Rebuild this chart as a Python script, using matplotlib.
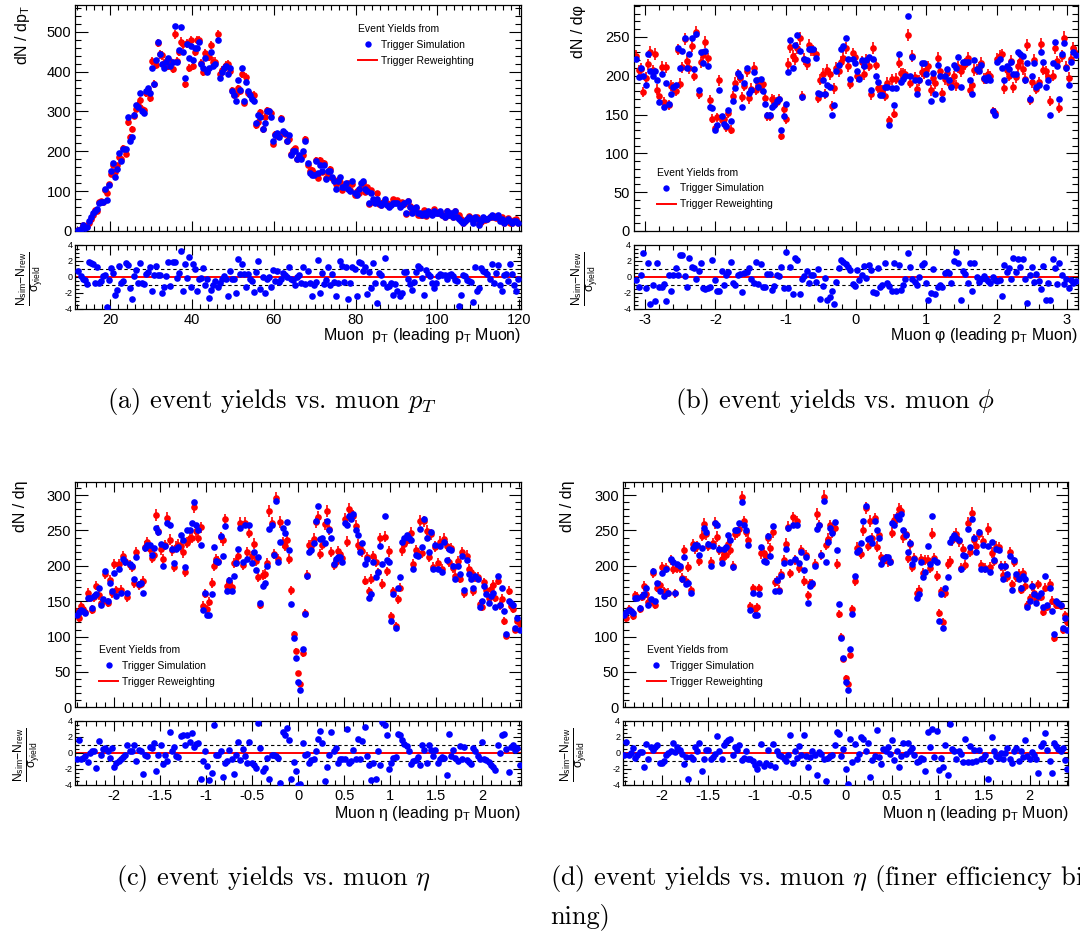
import numpy as np
import matplotlib
matplotlib.use('Agg')
import matplotlib.pyplot as plt
from matplotlib.ticker import MultipleLocator, AutoMinorLocator, FuncFormatter
from matplotlib.lines import Line2D

plt.rcParams['font.family'] = ['Liberation Sans', 'DejaVu Sans']
plt.rcParams['mathtext.fontset'] = 'custom'
plt.rcParams['mathtext.rm'] = 'Liberation Sans'
plt.rcParams['mathtext.it'] = 'Liberation Sans:italic'
plt.rcParams['mathtext.bf'] = 'Liberation Sans:bold'
plt.rcParams['mathtext.sf'] = 'Liberation Sans'
plt.rcParams['mathtext.default'] = 'it'
plt.rcParams['axes.unicode_minus'] = False

# ---------------- data ----------------
# (a) muon pT, 0.5 GeV bins from 12 to 120 ; blue = trigger simulation yields
pt_range = (12.0, 120.0)
pt_sim = [
    2, 5, 15, 8, 10, 25, 35, 45, 50, 55, 70, 72,
    72, 105, 78, 115, 150, 170, 135, 155, 195, 175, 205, 205,
    285, 225, 235, 290, 315, 310, 345, 300, 295, 350, 360, 345,
    410, 370, 430, 475, 445, 420, 410, 425, 435, 415, 425, 515,
    425, 455, 512, 450, 385, 470, 435, 465, 430, 460, 460, 475,
    420, 410, 435, 400, 410, 450, 415, 420, 480, 385, 400, 410,
    415, 395, 410, 350, 340, 325, 380, 355, 410, 325, 375, 350,
    340, 330, 325, 270, 290, 285, 255, 270, 300, 300, 285, 225,
    240, 245, 235, 280, 250, 245, 225, 240, 190, 200, 200, 180,
    190, 180, 200, 225, 170, 145, 140, 140, 175, 145, 165, 150,
    165, 130, 150, 150, 135, 125, 105, 125, 135, 110, 110, 120,
    105, 100, 125, 95, 90, 105, 120, 125, 105, 100, 70, 95,
    80, 70, 80, 70, 65, 70, 80, 65, 60, 65, 70, 70,
    70, 60, 65, 70, 45, 75, 60, 45, 55, 60, 45, 45,
    40, 45, 40, 50, 45, 40, 50, 45, 45, 50, 40, 35,
    50, 40, 45, 35, 50, 35, 30, 25, 20, 25, 30, 35,
    30, 20, 35, 30, 15, 25, 35, 30, 30, 35, 40, 35,
    35, 40, 25, 30, 20, 25, 30, 25, 20, 25, 25, 20,
]
# pull (N_sim - N_rew) / sigma_yield
pt_pull = [
    0.8, 0.1, -0.2, -0.4, -0.9, 1.9, 1.7, 1.6, -0.8, 1.3, -0.7, -0.5,
    0.1, 0.2, -3.7, -0.4, 1.1, 0.5, -2.3, -1.6, 1.4, -0.8, -0.5, 1.7,
    1.5, -1.4, -2.7, 0.1, 0.9, -0.8, 1.8, -0.8, -0.9, 0.4, 0.6, 1.3,
    -1.7, 0.2, 1.4, 0.3, 0.2, -2.0, -1.2, 0.1, 1.9, -1.1, 1.9, 1.9,
    -0.1, 0.5, 3.3, -1.7, 1.6, -0.1, 2.5, -1.3, 1.6, 1.0, -1.8, -0.3,
    -0.1, 1.1, -1.0, -0.2, -2.6, -1.6, -1.0, -0.5, -1.2, -0.8, -0.3, 0.1,
    -0.2, -2.4, 0.8, -0.3, -0.2, -2.0, 2.3, 0.4, 1.6, 0.4, -1.3, 0.4,
    -0.3, -0.5, -1.9, 0.6, 2.0, -1.5, 0.0, -2.0, -0.3, 0.0, -1.2, 0.9,
    -0.5, 0.7, -0.6, -0.3, 0.5, 0.3, 0.0, 1.3, -0.3, -0.4, -1.0, 0.0,
    0.3, -0.7, 1.2, -0.9, 0.7, -0.8, -2.4, -1.0, -0.6, 2.1, -2.0, 0.5,
    -0.9, -0.4, 1.3, -1.0, 0.4, -0.6, -2.4, -0.7, 2.0, 1.4, -0.6, 1.2,
    -2.8, -0.8, 1.3, 1.0, -2.4, 1.9, 1.7, 0.7, 1.2, -2.1, 0.6, -1.4,
    1.7, -0.8, -3.3, 0.5, 0.2, -0.8, 2.4, -1.3, -1.1, -0.8, -2.3, -0.9,
    -1.7, -2.4, -2.0, 0.6, 0.6, -0.2, -0.9, -1.6, -0.6, 0.6, 1.4, 1.1,
    -0.1, -2.3, 0.9, 0.4, 0.1, -0.7, -1.4, -0.8, 0.1, 0.4, 0.3, 0.2,
    -0.3, 0.3, 0.4, 0.1, -0.4, -0.5, -3.6, -2.3, 0.3, 0.1, -0.4, -0.5,
    -0.6, -3.1, 1.2, -1.7, -1.4, 1.1, 0.8, 0.6, 0.4, -0.2, 1.6, -0.7,
    0.5, 1.5, -1.0, -1.8, 0.3, 0.4, -0.5, 1.6, 0.4, -1.0, -1.8, -0.3,
]

# (b) muon phi, bins from -pi to pi
phi_range = (-np.pi, np.pi)
phi_sim = [
    222, 198, 210, 200, 188, 228, 206, 200, 206, 194,
    166, 202, 160, 190, 164, 176, 186, 188, 236, 210,
    232, 248, 210, 228, 248, 208, 254, 182, 230, 216,
    232, 212, 160, 158, 130, 136, 182, 148, 138, 135,
    156, 142, 168, 184, 204, 200, 160, 190, 210, 178,
    182, 205, 195, 185, 196, 180, 164, 150, 150, 160,
    162, 168, 170, 130, 148, 164, 205, 246, 210, 240,
    252, 232, 172, 222, 220, 234, 234, 234, 223, 178,
    176, 195, 176, 188, 185, 150, 162, 206, 214, 234,
    238, 248, 222, 196, 222, 216, 206, 196, 220, 212,
    220, 224, 182, 222, 200, 192, 175, 175, 186, 186,
    136, 184, 162, 184, 228, 192, 196, 200, 277, 200,
    224, 194, 176, 194, 216, 216, 202, 192, 168, 204,
    176, 214, 199, 170, 199, 208, 194, 186, 214, 210,
    224, 186, 218, 218, 218, 194, 176, 220, 208, 206,
    214, 197, 194, 198, 194, 154, 150, 218, 222, 210,
    194, 212, 208, 218, 202, 202, 230, 228, 225, 194,
    216, 170, 200, 216, 186, 188, 230, 218, 186, 194,
    150, 216, 244, 212, 170, 228, 242, 210, 188, 218,
    230, 226,
]
phi_pull = [
    -0.4, -1.3, 0.2, 3.0, -1.4, 1.8, -3.4, -1.0, -3.0, 1.7,
    -1.2, -1.3, -0.9, -3.0, 0.3, -1.7, 0.2, 1.1, 0.3,
    2.8, 2.8, 0.1, -1.3, 2.4, 1.3, 1.1, -0.3, 0.8, 1.7,
    -1.4, -1.5, -1.4, -1.3, 2.1, -0.4, -1.8, -1.8, 0.8,
    -1.0, 0.2, 0.6, 1.9, -0.8, -1.0, 0.3, 0.4, -1.9,
    0.5, 0.6, 1.1, -0.2, -0.7, 1.9, -0.9, 1.6, -1.3,
    -1.2, 0.4, 0.4, -1.6, -1.1, 0.3, 0.1, 1.3, -1.4,
    3.1, -1.4, 1.2, -2.1, 2.4, 2.1, -2.1, -0.3, 0.1, 0.7,
    -0.7, 0.2, 0.2, -0.6, 1.0, -2.8, -1.1, -0.1, -2.9,
    -2.5, -1.8, -3.4, -0.6, 1.1, 2.1, 1.9, 1.6, 1.3, 0.9,
    -0.9, -1.1, 0.9, -0.4, 0.3, 1.4, -0.1, 1.5, 0.9,
    -1.9, -2.0, 1.1, -1.3, -1.0, 1.8, -0.7, -1.1, -1.7,
    1.7, -1.8, 1.5, -1.6, -1.0, -0.3, 3.0, 1.3, -0.2, -0.6,
    -1.0, 0.0, 1.5, 1.8, -0.7, -2.9, -2.0, 1.0, -2.1, -1.2,
    -1.0, -1.2, 0.5, 0.6, 0.5, -0.8, 2.0, 3.1, 1.7, -2.9,
    0.7, 0.4, -0.7, 1.7, -1.8, 1.7, 0.0, -0.6, -0.3, 0.1,
    -0.3, -0.5, -0.8, 0.0, -0.4, -0.5, -0.4, -2.4, 1.5, 0.6,
    1.1, -0.2, 2.4, 0.6, 2.3, 1.2, 2.2, -0.3, -3.2, 0.2,
    1.2, -0.6, 0.4, -0.5, -1.5, 1.4, -2.9, -0.7, -2.9, 2.2,
    1.1, -0.9, 1.8, 0.3, -0.9, -0.2, -1.4, -0.4, -0.7, -0.5,
]

# (c),(d) muon eta ; the simulation yields are common to both
eta_range = (-2.42, 2.42)
eta_sim = [
    130, 135, 138, 136, 133, 155, 155, 140, 157, 160,
    168, 145, 153, 193, 150, 176, 165, 190, 158, 195,
    162, 210, 205, 162, 202, 200, 182, 212, 175, 176,
    162, 225, 230, 230, 216, 225, 254, 248, 231, 200,
    228, 260, 258, 224, 204, 224, 226, 244, 236, 198,
    250, 250, 260, 290, 258, 250, 230, 138, 162, 130,
    130, 160, 226, 207, 205, 242, 214, 256, 165, 180,
    165, 186, 204, 224, 254, 205, 258, 210, 258, 204,
    220, 194, 212, 148, 172, 176, 200, 252, 258, 215,
    292, 205, 234, 254, 246, 262, 222, 146, 98, 70,
    36, 24, 82, 132, 186, 220, 222, 232, 264, 284,
    238, 240, 232, 264, 250, 240, 202, 210, 212, 212,
    206, 260, 258, 270, 266, 274, 250, 244, 220, 232,
    202, 210, 155, 160, 205, 184, 192, 228, 202, 270,
    208, 206, 122, 160, 112, 168, 184, 234, 240, 244,
    240, 236, 196, 216, 214, 252, 226, 266, 240, 220,
    248, 196, 230, 196, 228, 192, 234, 208, 224, 222,
    200, 182, 200, 188, 214, 166, 208, 188, 182, 168,
    186, 182, 142, 150, 172, 160, 148, 158, 162, 142,
    186, 144, 168, 136, 104, 150, 148, 145, 112, 126,
    110,
]
eta_pull_c = [
    -0.8, 1.6, -0.8, -0.6, -0.4, -1.1, 0.0, 0.3, 0.2, -1.9,
    1.5, -0.3, 0.5, 0.6, 0.3, -0.6, 0.6, -1.8, -1.2, -1.0,
    -0.7, -0.5, -0.3, 1.0, 0.2, 0.2, 1.0, -1.0, 0.4,
    0.2, -2.6, -0.3, -0.4, 0.8, 0.6, 1.3, -2.3, -0.2,
    1.0, -1.4, -0.2, -1.0, 2.6, 0.3, 0.8, -0.4, -0.5,
    2.1, 2.2, 1.0, 2.2, 1.4, 2.5, 0.8, 1.1, 1.3,
    -3.2, -1.0, 0.2, -1.6, -3.4, -2.5, 3.5, -0.3, -0.2, 0.2,
    -3.0, -1.2, -1.0, 0.4, -0.8, -2.6, -0.2, 1.4, -0.9,
    0.5, -0.4, -1.3, 1.4, -1.3, -1.5, -1.9, 3.8, 0.6, -2.3,
    -1.9, -0.6, -3.2, -0.3, -0.2, -0.4, -0.6, -3.7, 2.6, 2.2,
    3.1, 1.6, -3.2, -1.1, -2.2, -4.0, -3.9, 1.3, -0.3, -0.1,
    -1.3, -0.9, -0.8, 0.3, 1.8, 2.8, 1.3, -3.5, -1.7, -0.2,
    2.6, 0.2, 0.6, -1.2, -0.7, -0.8, -0.8, 3.0, -1.2, -1.0,
    0.4, -0.8, 1.8, -0.8, 1.5, 3.2, -0.4, -1.5, -3.4, -1.3,
    -3.2, 0.2, -1.5, 3.9, 3.5, 2.2, -2.0, -1.3, -0.6, -0.5,
    2.4, 2.2, 1.6, 1.1, 0.9, 0.2, -1.4, -1.0, -0.9, -0.5,
    -1.5, 1.0, 0.4, -1.2, 1.0, 0.4, -0.4, 0.4, -1.2, -0.8,
    -0.5, -0.6, -2.8, 2.4, -0.4, 0.4, -0.6, -1.0, 0.9, -0.8,
    0.7, -0.9, -1.1, -1.4, 0.6, 0.2, -0.4, -0.7, 1.4, -0.7,
    -0.9, -1.1, -1.5, -1.8, -2.1, 1.0, 0.0, 2.2, 2.4, 0.5,
    -2.4, 0.8, 1.0, 0.4, 0.6, -1.5,
]
eta_pull_d = [
    -0.3, 1.4, -0.2, 0.0, 0.6, -0.6, -0.2, 0.1, 0.1, -1.8,
    1.1, -0.7, 0.7, 0.4, 0.8, 1.0, -1.2, -1.2, -1.0, -0.3,
    0.0, 0.2, 1.3, 0.1, 0.7, 0.4, -0.1, -1.4, -0.5, -3.3,
    -0.5, -0.7, 0.7, 0.3, 1.2, -2.3, -0.7, 0.4, 0.4, -0.8,
    -0.5, -0.1, 2.1, 0.2, -0.8, 1.0, 1.4, 1.6, 1.7, -0.2,
    0.7, 0.4, 1.0, -0.9, -0.6, 0.2, -0.8, -0.8, -1.0, -1.5,
    -2.0, -1.3, 1.1, -1.6, -1.3, 0.4, -1.5, 1.1, -1.8, 0.2,
    -0.2, -0.4, -0.6, -1.0, -0.2, 2.2, -1.3, 0.3, -0.6, 0.9,
    -0.3, 2.2, -0.4, -1.7, -0.5, 0.2, -0.3, -2.7, 0.1, -0.1,
    -0.7, -3.5, -0.6, -0.4, -0.2, 1.0, 2.6, 2.4, -0.4, 0.5,
    -2.0, -3.9, 1.8, -1.1, 1.1, -0.8, -0.1, 2.0, 1.7, 0.2,
    1.2, -3.0, -0.9, -0.4, 2.9, -0.5, -1.4, 0.5, 0.3, 0.8,
    -0.1, 1.6, -0.9, 0.3, -1.7, -0.4, 1.2, -0.1, 1.2, 0.2,
    0.6, -0.2, -1.1, -1.0, -0.6, -0.8, -2.3, 2.6, 0.8, 3.0,
    -0.5, 2.8, -2.1, -0.6, -1.7, 1.0, -2.8, 3.6, 0.5, 0.3,
    -0.7, 0.2, -0.1, -1.1, 1.7, -1.1, 0.9, -1.1, 0.4, -1.0,
    0.4, -0.8, -0.6, -0.2, -3.2, -1.0, 2.0, 0.2, -0.4, -0.6,
    0.0, -0.8, 0.0, 0.6, -0.8, -1.2, 0.3, 0.6, -1.0, 0.3,
    -0.5, 1.6, -0.4, -0.7, 0.1, -0.3, -0.8, -2.5, 0.9, 1.3,
    2.5, 0.4, -1.0, -2.5, 1.3, 0.9, 0.5, 0.3, 0.6, -0.9,
    -2.0,
]

legend_title = 'Event Yields from'
legend_labels = ['Trigger Simulation', 'Trigger Reweighting']
captions = [r'(a) event yields vs. muon $p_T$',
            r'(b) event yields vs. muon $\phi$',
            r'(c) event yields vs. muon $\eta$',
            r'(d) event yields vs. muon $\eta$ (finer efficiency bin-',
            'ning)']

# ---------------- figure ----------------
W, H = 1080, 934
fig = plt.figure(figsize=(W / 100, H / 100), dpi=100)


def rect(l, t, r, b):
    return [l / W, 1 - b / H, (r - l) / W, (b - t) / H]


BLUE = '#0000ff'
RED = '#ff0000'
gfmt = FuncFormatter(lambda v, p: f'{v:g}')
RATIO_LABEL = r'$\frac{\mathrm{N_{sim}}\mathrm{-}\mathrm{N_{rew}}}{\mathrm{\sigma_{yield}}}$'


def centers(rng, n):
    edges = np.linspace(rng[0], rng[1], n + 1)
    return 0.5 * (edges[1:] + edges[:-1])


def panel(box_main, box_rat, rng, sim, pull, xlim, ylim, xmaj, xmin_n, ymaj,
          ylab, xlab, ylab_pos, rlab_pos, xlab_pos, leg_anchor):
    sim = np.asarray(sim, float)
    pull = np.asarray(pull, float)
    x = centers(rng, len(sim))
    sig = 0.5 * np.sqrt(np.maximum(sim, 1.0))
    rew = sim - pull * sig
    rew_err = 0.5 * np.sqrt(np.maximum(rew, 1.0))

    axm = fig.add_axes(rect(*box_main))
    axr = fig.add_axes(rect(*box_rat))

    axm.errorbar(x, rew, yerr=rew_err, fmt='o', color=RED, ms=4.8,
                 elinewidth=1.2, capsize=0, mew=0, zorder=2)
    axm.plot(x, sim, 'o', color=BLUE, ms=4.8, mew=0, zorder=3)

    axr.axhline(0, color=RED, lw=1.4, zorder=1)
    axr.axhline(1, color='black', lw=0.8, ls=(0, (3, 2.5)), zorder=1)
    axr.axhline(-1, color='black', lw=0.8, ls=(0, (3, 2.5)), zorder=1)
    axr.plot(x, pull, 'o', color=BLUE, ms=4.8, mew=0, zorder=3)

    for ax in (axm, axr):
        ax.set_xlim(*xlim)
        ax.xaxis.set_major_locator(MultipleLocator(xmaj))
        ax.xaxis.set_minor_locator(AutoMinorLocator(xmin_n))
        ax.xaxis.set_major_formatter(gfmt)
        ax.tick_params(which='both', direction='in', top=True, right=True,
                       width=0.8)
        for s in ax.spines.values():
            s.set_linewidth(0.9)
    axm.set_ylim(*ylim)
    axm.yaxis.set_major_locator(MultipleLocator(ymaj))
    axm.yaxis.set_minor_locator(AutoMinorLocator(5))
    axm.yaxis.set_major_formatter(gfmt)
    axm.tick_params(axis='x', which='both', labelbottom=False)
    axm.tick_params(axis='x', which='major', length=7)
    axm.tick_params(axis='x', which='minor', length=3.5)
    axm.tick_params(axis='y', which='major', length=9, labelsize=10.5, pad=3)
    axm.tick_params(axis='y', which='minor', length=4.5)

    axr.set_ylim(-4, 4)
    axr.yaxis.set_major_locator(MultipleLocator(2))
    axr.yaxis.set_minor_locator(AutoMinorLocator(4))
    axr.yaxis.set_major_formatter(gfmt)
    axr.tick_params(axis='x', which='major', length=7, labelsize=10.5, pad=3)
    axr.tick_params(axis='x', which='minor', length=3.5)
    axr.tick_params(axis='y', which='major', length=6, labelsize=6.5, pad=2)
    axr.tick_params(axis='y', which='minor', length=3)

    handles = [Line2D([], [], ls='none', marker='o', color=BLUE, ms=4.6, mew=0),
               Line2D([], [], color=RED, lw=1.4)]
    axm.legend(handles, legend_labels, title=legend_title, loc='upper left',
               bbox_to_anchor=leg_anchor, frameon=False, fontsize=7.5,
               title_fontsize=7.5, handlelength=1.8, handletextpad=0.4,
               borderpad=0, borderaxespad=0, labelspacing=0.55,
               alignment='left')

    fig.text(ylab_pos[0] / W, 1 - ylab_pos[1] / H, ylab, rotation=90,
             ha='center', va='top', fontsize=11.5)
    fig.text(rlab_pos[0] / W, 1 - rlab_pos[1] / H, RATIO_LABEL, rotation=90,
             ha='center', va='center', fontsize=12.5)
    fig.text(xlab_pos[0] / W, 1 - xlab_pos[1] / H, xlab, ha='right',
             va='baseline', fontsize=11.5)


# (a)
panel((75.4, 5, 520.8, 231), (75.4, 245, 520.8, 309), pt_range, pt_sim, pt_pull,
      (11.5, 120.4), (0, 567), 20, 10, 100,
      r'dN / dp$_{\rm T}$', r'Muon  p$_{\rm T}$ (leading p$_{\rm T}$ Muon)',
      (22.5, 5), (30, 279), (520.8, 340), (0.635, 0.915))
# (b)
panel((634, 5, 1078, 231), (634, 245, 1078, 309), phi_range, phi_sim, phi_pull,
      (-3.16, 3.16), (0, 291), 1, 5, 50,
      'dN / dφ', r'Muon φ (leading p$_{\rm T}$ Muon)',
      (578, 5), (585.5, 279), (1078, 340), (0.052, 0.28))
# (c)
panel((75.4, 481.7, 520.8, 707.3), (75.4, 721, 520.8, 785), eta_range, eta_sim,
      eta_pull_c, (-2.42, 2.42), (0, 319), 0.5, 5, 50,
      'dN / dη', r'Muon η (leading p$_{\rm T}$ Muon)',
      (21, 481), (27, 755), (520.8, 818), (0.054, 0.275))
# (d)
panel((623, 481.7, 1068.4, 707.3), (623, 721, 1068.4, 785), eta_range, eta_sim,
      eta_pull_d, (-2.42, 2.42), (0, 319), 0.5, 5, 50,
      'dN / dη', r'Muon η (leading p$_{\rm T}$ Muon)',
      (567.7, 481), (574, 755), (1068.4, 818), (0.054, 0.275))

cap_kw = dict(fontfamily='cmr10', math_fontfamily='cm', fontsize=19,
              va='baseline')
fig.text(271.5 / W, 1 - 408 / H, captions[0], ha='center', **cap_kw)
fig.text(834.5 / W, 1 - 408 / H, captions[1], ha='center', **cap_kw)
fig.text(273.5 / W, 1 - 885.5 / H, captions[2], ha='center', **cap_kw)
fig.text(550.5 / W, 1 - 885.5 / H, captions[3], ha='left', **cap_kw)
fig.text(550.5 / W, 1 - 923.5 / H, captions[4], ha='left', **cap_kw)

fig.savefig('out.png', dpi=100)
